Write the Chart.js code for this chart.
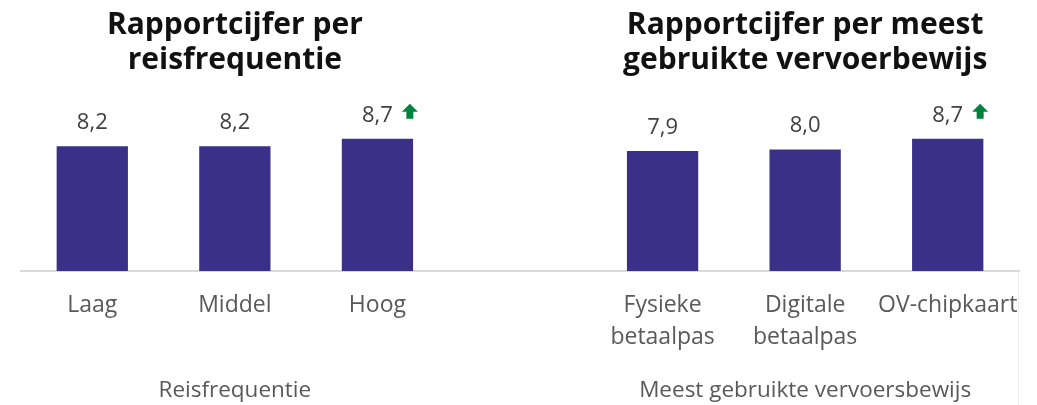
<!DOCTYPE html>
<html>
<head>
<meta charset="utf-8">
<script src="https://cdn.jsdelivr.net/npm/chart.js@4/dist/chart.umd.min.js"></script>
<style>
  body { margin: 0; background: #ffffff; }
  #wrap { position: relative; width: 1037px; height: 405px; }
</style>
</head>
<body>
<div id="wrap"><canvas id="rapportChart"></canvas></div>
<script>
// Data
const leftTitle = ["Rapportcijfer per", "reisfrequentie"];
const leftAxisTitle = "Reisfrequentie";
const leftCategories = ["Laag", "Middel", "Hoog"];
const leftValues = [8.2, 8.2, 8.7];
const leftUp = [false, false, true];

const rightTitle = ["Rapportcijfer per meest", "gebruikte vervoerbewijs"];
const rightAxisTitle = "Meest gebruikte vervoersbewijs";
const rightCategories = [["Fysieke", "betaalpas"], ["Digitale", "betaalpas"], "OV-chipkaart"];
const rightValues = [7.9, 8.0, 8.7];
const rightUp = [false, false, true];

// one chart, empty slot in between the two groups
var labels = leftCategories.concat([""], rightCategories);
var values = leftValues.concat([null], rightValues);
var upFlags = leftUp.concat([false], rightUp);

var fontFamily = "'Open Sans', sans-serif";
var barColour = "#3a3087";
var labelColour = "#404040";
var tickColour = "#595959";
var arrowColour = "#00843d";

const textPlugin = {
    id: "panelText",
    afterDatasetsDraw(chart) {
        const ctx = chart.ctx;
        const meta = chart.getDatasetMeta(0);
        const xScale = chart.scales.x;

        ctx.save();
        // value labels + arrows
        ctx.font = "22px " + fontFamily;
        ctx.textAlign = "center";
        ctx.textBaseline = "alphabetic";
        meta.data.forEach(function(bar, i) {
            if (values[i] == null) return;
            const txt = values[i].toFixed(1).replace(".", ",");
            const y = bar.y - 17;
            ctx.fillStyle = labelColour;
            ctx.fillText(txt, bar.x, y);
            if (upFlags[i]) {
                const w = ctx.measureText(txt).width;
                const ax = bar.x + w / 2 + 17;
                ctx.fillStyle = arrowColour;
                ctx.beginPath();
                ctx.moveTo(ax, y - 18);
                ctx.lineTo(ax + 8, y - 10);
                ctx.lineTo(ax + 3.5, y - 10);
                ctx.lineTo(ax + 3.5, y - 3);
                ctx.lineTo(ax - 3.5, y - 3);
                ctx.lineTo(ax - 3.5, y - 10);
                ctx.lineTo(ax - 8, y - 10);
                ctx.closePath();
                ctx.fill();
            }
        });

        // panel titles
        const leftX = xScale.getPixelForValue(1);
        const rightX = xScale.getPixelForValue(5);
        ctx.fillStyle = "#111111";
        ctx.font = "bold 30px " + fontFamily;
        [[leftTitle, leftX], [rightTitle, rightX]].forEach(function(t) {
            t[0].forEach(function(line, j) {
                ctx.fillText(line, t[1], 34 + j * 35);
            });
        });

        // axis titles
        ctx.fillStyle = tickColour;
        ctx.font = "22.5px " + fontFamily;
        ctx.fillText(leftAxisTitle, leftX, 397);
        ctx.fillText(rightAxisTitle, rightX, 397);

        // thin frame line on the right
        ctx.strokeStyle = "#ececec";
        ctx.lineWidth = 1;
        ctx.beginPath();
        ctx.moveTo(chart.chartArea.right - 0.5, chart.chartArea.bottom);
        ctx.lineTo(chart.chartArea.right - 0.5, chart.height);
        ctx.stroke();
        ctx.restore();
    }
};

new Chart(document.getElementById("rapportChart"), {
    type: "bar",
    data: {
        labels: labels,
        datasets: [{
            data: values,
            backgroundColor: barColour,
            categoryPercentage: 0.5,
            barPercentage: 1.0
        }]
    },
    options: {
        responsive: true,
        maintainAspectRatio: false,
        animation: false,
        layout: {
            padding: { left: 21, right: 18, top: 119, bottom: 0 }
        },
        plugins: {
            legend: { display: false },
            tooltip: { enabled: false }
        },
        scales: {
            x: {
                grid: { display: false, drawTicks: false },
                border: { display: true, color: "#d9d9d9", width: 2 },
                ticks: {
                    color: tickColour,
                    padding: 18,
                    maxRotation: 0,
                    autoSkip: false,
                    font: { family: fontFamily, size: 23, lineHeight: 1.4 }
                },
                afterFit: function(scale) {
                    scale.height = 134;
                }
            },
            y: {
                display: false,
                min: 0,
                max: 10
            }
        }
    },
    plugins: [textPlugin]
});
</script>
</body>
</html>
